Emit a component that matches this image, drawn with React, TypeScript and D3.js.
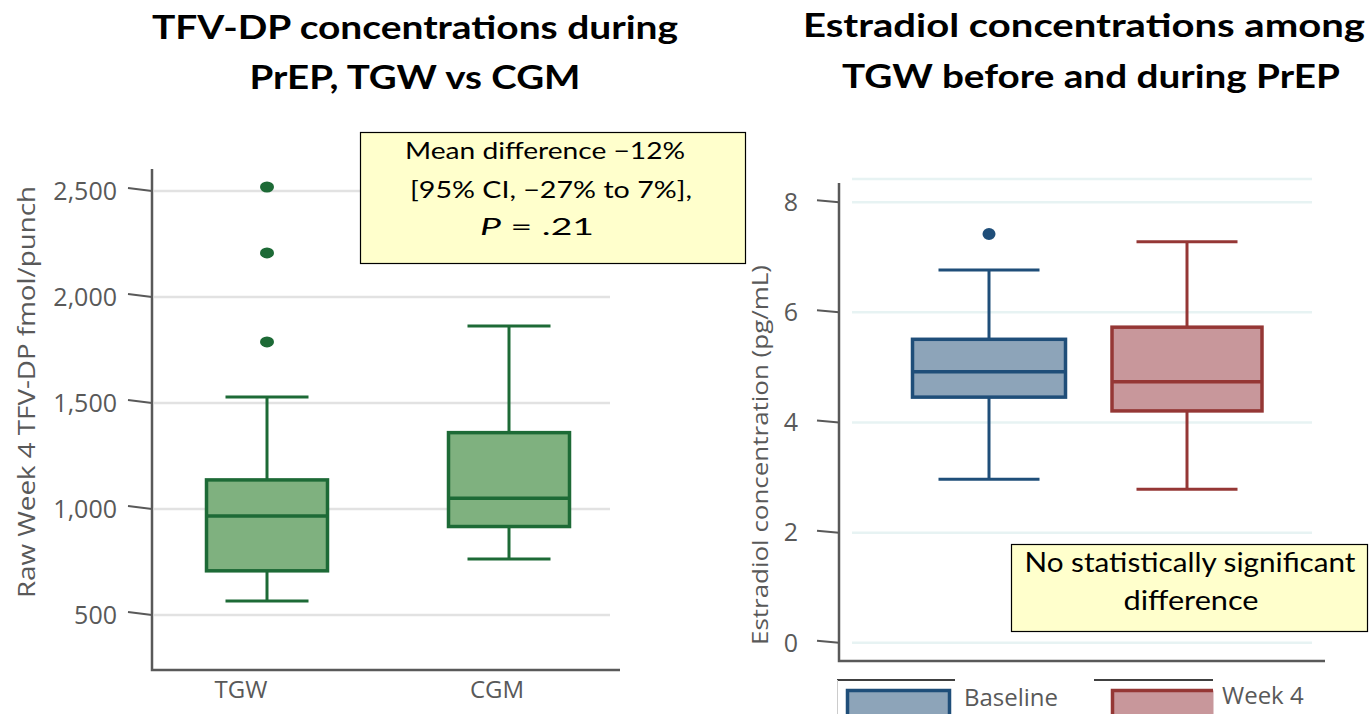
import React from 'react';
import * as d3 from 'd3';

// TFV-DP panel (fmol/punch)
const tfvGroups = ['TGW', 'CGM'];
const tfvLow = [566, 764];
const tfvQ1 = [708, 917];
const tfvMedian = [967, 1050];
const tfvQ3 = [1137, 1360];
const tfvHigh = [1528, 1863];
const tfvOutliers = [[1788, 2208, 2519], []];
const tfvTicks = [500, 1000, 1500, 2000, 2500];
const tfvTickLabels = ['500', '1,000', '1,500', '2,000', '2,500'];

// Estradiol panel (pg/mL)
const e2Groups = ['Baseline', 'Week 4'];
const e2Low = [2.97, 2.79];
const e2Q1 = [4.46, 4.21];
const e2Median = [4.92, 4.74];
const e2Q3 = [5.51, 5.73];
const e2High = [6.77, 7.28];
const e2Outliers = [[7.42], []];
const e2Ticks = [0, 2, 4, 6, 8];

const GREEN_FILL = '#7fb17f';
const GREEN_LINE = '#1d6a36';
const BLUE_FILL = '#8da4b9';
const BLUE_LINE = '#1f4e79';
const RED_FILL = '#c8979b';
const RED_LINE = '#953735';
const AXIS = '#595959';
const TICK_FONT = '"Open Sans", sans-serif';
const TITLE_FONT = 'Lato, sans-serif';

function BoxPlot(props: any) {
  const { x, y, low, q1, med, q3, high, outliers, boxW, capW, fill, stroke, ol } = props;
  return (
    <g>
      <line x1={x} x2={x} y1={y(high)} y2={y(q3)} stroke={stroke} strokeWidth={3} />
      <line x1={x} x2={x} y1={y(q1)} y2={y(low)} stroke={stroke} strokeWidth={3} />
      <line x1={x - capW / 2} x2={x + capW / 2} y1={y(high)} y2={y(high)} stroke={stroke} strokeWidth={3} />
      <line x1={x - capW / 2} x2={x + capW / 2} y1={y(low)} y2={y(low)} stroke={stroke} strokeWidth={3} />
      <rect x={x - boxW / 2} y={y(q3)} width={boxW} height={y(q1) - y(q3)} fill={fill} stroke={stroke} strokeWidth={3.5} />
      <line x1={x - boxW / 2} x2={x + boxW / 2} y1={y(med)} y2={y(med)} stroke={stroke} strokeWidth={3.5} />
      {outliers.map((v: number, i: number) => (
        <ellipse key={i} cx={x} cy={y(v)} rx={ol.rx} ry={ol.ry} fill={stroke} />
      ))}
    </g>
  );
}

export default function App() {
  // left panel
  const yL = d3.scaleLinear().domain([240, 2604]).range([670, 169]);
  const xL = d3.scalePoint().domain(tfvGroups).range([267, 509]);
  const axL = 152;

  // right panel
  const yR = d3.scaleLinear().domain([-0.33, 8.42]).range([661, 179]);
  const xR = d3.scalePoint().domain(e2Groups).range([989, 1187]);
  const axR = 839;

  return (
    <svg width={1369} height={714} style={{ position: 'absolute', left: 0, top: 0, background: '#fff' }}>
      {/* ---------- left panel ---------- */}
      <text x={415} y={39} textAnchor="middle" fontFamily={TITLE_FONT} fontWeight={700} fontSize={33}
        textLength={526} lengthAdjust="spacingAndGlyphs">TFV-DP concentrations during</text>
      <text x={415} y={89} textAnchor="middle" fontFamily={TITLE_FONT} fontWeight={700} fontSize={33}
        textLength={331} lengthAdjust="spacingAndGlyphs">PrEP, TGW vs CGM</text>

      {tfvTicks.map((t) => (
        <line key={'gl' + t} x1={axL + 2} x2={610} y1={yL(t)} y2={yL(t)} stroke="#e2e2e2" strokeWidth={2.5} />
      ))}
      {tfvTicks.map((t, i) => (
        <g key={'tl' + t}>
          <line x1={axL - 24} y1={yL(t) - 3} x2={axL} y2={yL(t)} stroke={AXIS} strokeWidth={2} />
          <text x={117} y={yL(t)} dy="0.35em" textAnchor="end" fontFamily={TICK_FONT} fontSize={25} fill={AXIS}>
            {tfvTickLabels[i]}
          </text>
        </g>
      ))}
      <path d={`M${axL},169V${yL.range()[0]}H620`} fill="none" stroke={AXIS} strokeWidth={2.5} />
      <text transform={`translate(35,392) rotate(-90)`} textAnchor="middle" fontFamily={TICK_FONT} fontSize={23}
        fill={AXIS} textLength={412} lengthAdjust="spacingAndGlyphs">Raw Week 4 TFV-DP fmol/punch</text>

      {tfvGroups.map((g, i) => (
        <BoxPlot key={g} x={xL(g)} y={yL} low={tfvLow[i]} q1={tfvQ1[i]} med={tfvMedian[i]} q3={tfvQ3[i]}
          high={tfvHigh[i]} outliers={tfvOutliers[i]} boxW={121} capW={83} fill={GREEN_FILL} stroke={GREEN_LINE}
          ol={{ rx: 7, ry: 5.5 }} />
      ))}
      {tfvGroups.map((g, i) => (
        <text key={'xl' + g} x={(xL(g) as number) - (i === 0 ? 26 : 12)} y={698} textAnchor="middle"
          fontFamily={TICK_FONT} fontSize={24} fill={AXIS}>{g}</text>
      ))}

      <rect x={360.5} y={132.5} width={385} height={131} fill="#ffffcc" stroke="#000" strokeWidth={1.2} />
      <g fontFamily={TITLE_FONT} fontSize={23} fill="#000" textAnchor="middle">
        <text x={545} y={159} textLength={280} lengthAdjust="spacingAndGlyphs">Mean difference −12%</text>
        <text x={551} y={198} textLength={282} lengthAdjust="spacingAndGlyphs">[95% CI, −27% to 7%],</text>
        <text x={537} y={235} textLength={114} lengthAdjust="spacingAndGlyphs">
          <tspan fontStyle="italic">P</tspan> = .21
        </text>
      </g>

      {/* ---------- right panel ---------- */}
      <text x={1084} y={37} textAnchor="middle" fontFamily={TITLE_FONT} fontWeight={700} fontSize={33}
        textLength={562} lengthAdjust="spacingAndGlyphs">Estradiol concentrations among</text>
      <text x={1091} y={88} textAnchor="middle" fontFamily={TITLE_FONT} fontWeight={700} fontSize={33}
        textLength={498} lengthAdjust="spacingAndGlyphs">TGW before and during PrEP</text>

      {[...e2Ticks, yR.domain()[1]].map((t) => (
        <line key={'rg' + t} x1={852} x2={1312} y1={yR(t)} y2={yR(t)} stroke="#e7f3f3" strokeWidth={2.5} />
      ))}
      {e2Ticks.map((t) => (
        <g key={'rt' + t}>
          <line x1={axR - 22} y1={yR(t) - 2} x2={axR} y2={yR(t)} stroke={AXIS} strokeWidth={2} />
          <text x={791} y={yR(t)} dy="0.35em" textAnchor="middle" fontFamily={TICK_FONT} fontSize={25} fill={AXIS}>
            {t}
          </text>
        </g>
      ))}
      <path d={`M${axR},183V${yR.range()[0]}H1325`} fill="none" stroke={AXIS} strokeWidth={2.5} />
      <text transform={`translate(768,455) rotate(-90)`} textAnchor="middle" fontFamily={TICK_FONT} fontSize={22}
        fill={AXIS} textLength={380} lengthAdjust="spacingAndGlyphs">Estradiol concentration (pg/mL)</text>

      {e2Groups.map((g, i) => (
        <BoxPlot key={g} x={xR(g)} y={yR} low={e2Low[i]} q1={e2Q1[i]} med={e2Median[i]} q3={e2Q3[i]}
          high={e2High[i]} outliers={e2Outliers[i]} boxW={i === 0 ? 153 : 150} capW={101}
          fill={i === 0 ? BLUE_FILL : RED_FILL} stroke={i === 0 ? BLUE_LINE : RED_LINE} ol={{ rx: 6.5, ry: 6 }} />
      ))}

      <rect x={1011.5} y={544.5} width={356} height={87} fill="#ffffcc" stroke="#000" strokeWidth={1.2} />
      <g fontFamily={TITLE_FONT} fontSize={26} fill="#000" textAnchor="middle">
        <text x={1190} y={572} textLength={331} lengthAdjust="spacingAndGlyphs">No statistically significant</text>
        <text x={1191} y={610} textLength={135} lengthAdjust="spacingAndGlyphs">difference</text>
      </g>

      {/* legend */}
      <line x1={837} x2={955} y1={680} y2={680} stroke="#000" strokeWidth={1.5} />
      <line x1={837.5} x2={837.5} y1={680} y2={714} stroke="#ccc" strokeWidth={1} />
      <rect x={847.5} y={690.5} width={102} height={30} fill={BLUE_FILL} stroke={BLUE_LINE} strokeWidth={3.5} />
      <text x={964} y={706} fontFamily={TICK_FONT} fontSize={24} fill={AXIS}>{e2Groups[0]}</text>
      <line x1={1094} x2={1213} y1={680} y2={680} stroke="#000" strokeWidth={1.5} />
      <rect x={1112.5} y={690.5} width={101} height={30} fill={RED_FILL} stroke="none" />
      <path d="M1213,690.5H1112.5V720" fill="none" stroke={RED_LINE} strokeWidth={3.5} />
      <text x={1222} y={704} fontFamily={TICK_FONT} fontSize={24} fill={AXIS}>{e2Groups[1]}</text>
    </svg>
  );
}
